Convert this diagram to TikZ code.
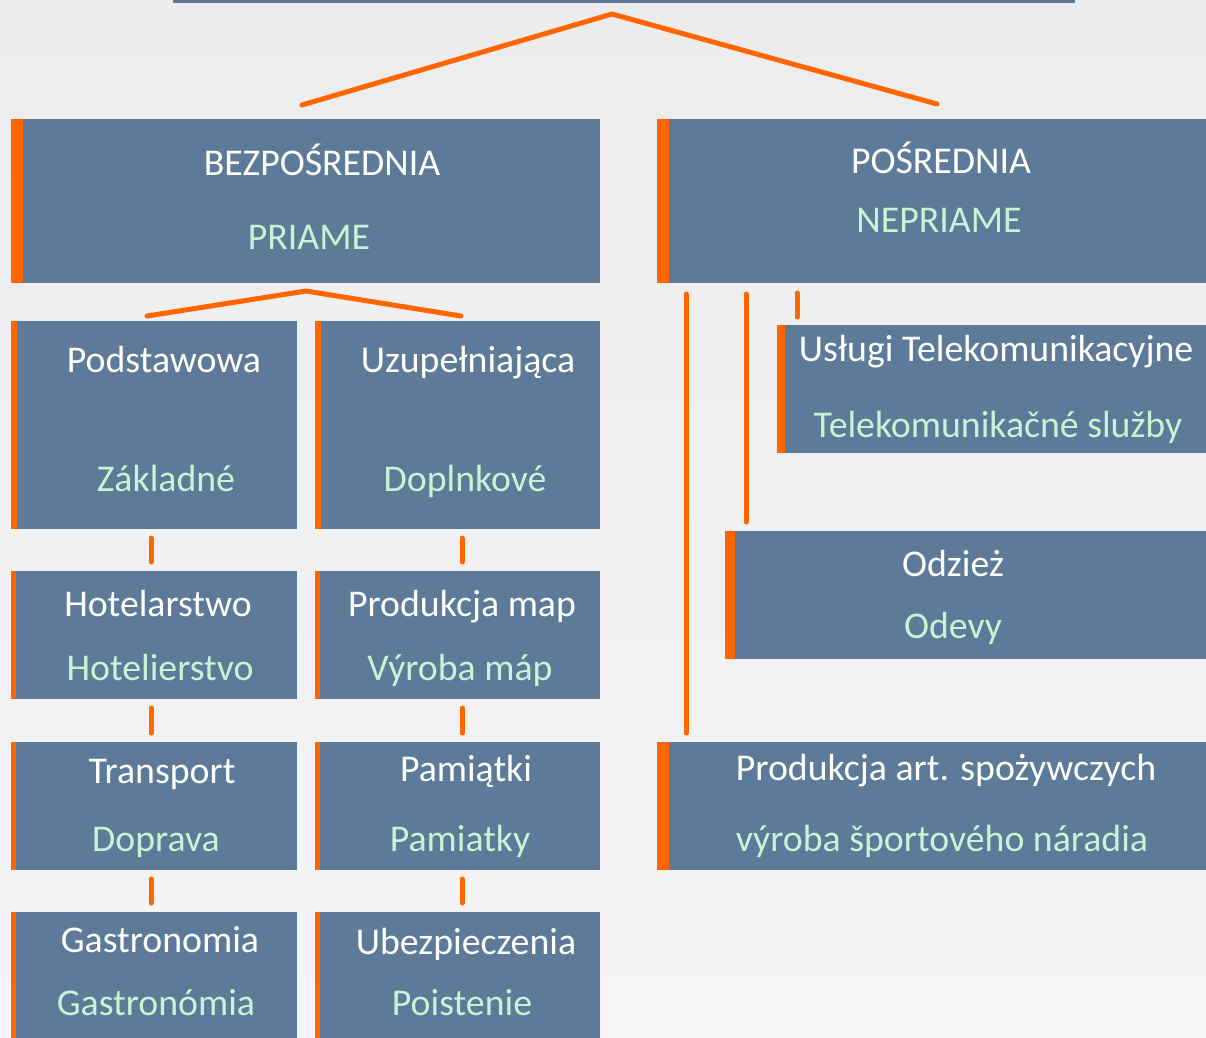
\documentclass[tikz,border=0pt]{standalone}
\usepackage{fontspec}
\setmainfont{Carlito}
\usetikzlibrary{calc}
\definecolor{boxblue}{HTML}{5D7A98}
\definecolor{accent}{HTML}{FF6600}
\definecolor{mint}{HTML}{C6F4D4}
\definecolor{bgA}{HTML}{ECECEC}
\definecolor{bgB}{HTML}{F5F5F5}
\begin{document}
\begin{tikzpicture}[x=1pt,y=-1pt,
  box/.style={fill=boxblue, draw=none, inner sep=0pt, outer sep=0pt, anchor=north west},
  pl/.style={text=white, inner sep=0pt, anchor=base, font=\fontsize{37.8}{44}\selectfont},
  sk/.style={text=mint, inner sep=0pt, anchor=base, font=\fontsize{37.8}{44}\selectfont},
  link/.style={draw=accent, line width=5pt, line cap=round, line join=round}]
% background
\shade[top color=bgA, bottom color=bgB] (0,0) rectangle (1206,1037);
\useasboundingbox (0,0) rectangle (1206,1037);

% boxes
\node[box, minimum width=902pt, minimum height=4pt] (top) at (173,-1) {};
\node[box, minimum width=589pt, minimum height=164pt] (bez) at (11,119) {};
\node[box, minimum width=549pt, minimum height=164pt] (pos) at (657,119) {};
\node[box, minimum width=286pt, minimum height=208pt] (pod) at (11,321) {};
\node[box, minimum width=285pt, minimum height=208pt] (uzu) at (315,321) {};
\node[box, minimum width=286pt, minimum height=128pt] (hot) at (11,571) {};
\node[box, minimum width=285pt, minimum height=128pt] (map) at (315,571) {};
\node[box, minimum width=286pt, minimum height=128pt] (tra) at (11,742) {};
\node[box, minimum width=285pt, minimum height=128pt] (pam) at (315,742) {};
\node[box, minimum width=286pt, minimum height=126pt] (gas) at (11,912) {};
\node[box, minimum width=285pt, minimum height=126pt] (ube) at (315,912) {};
\node[box, minimum width=429pt, minimum height=128pt] (tel) at (777,325) {};
\node[box, minimum width=481pt, minimum height=128pt] (odz) at (725,531) {};
\node[box, minimum width=549pt, minimum height=128pt] (spo) at (657,742) {};

% orange accent strips
\foreach \b/\w in {bez/12,pos/12,pod/6,uzu/6,hot/5,map/5,tra/5,pam/5,gas/5,ube/5,tel/8,odz/10,spo/12}
  \fill[accent] (\b.north west) rectangle ($(\b.south west)+(\w,0)$);

% texts
\node[pl] (t1a) at (322,175) {BEZPOŚREDNIA};
\node[sk] (t1b) at (309,249) {PRIAME};
\node[pl] (t2a) at (941,173) {POŚREDNIA};
\node[sk] (t2b) at (939,232) {NEPRIAME};
\node[pl] (t3a) at (164,372) {Podstawowa};
\node[sk] (t3b) at (166,491) {Základné};
\node[pl] (t4a) at (468,372) {Uzupełniająca};
\node[sk] (t4b) at (465,491) {Doplnkové};
\node[pl] (t5a) at (158,616) {Hotelarstwo};
\node[sk] (t5b) at (160,680) {Hotelierstvo};
\node[pl] (t6a) at (462,616) {Produkcja map};
\node[sk] (t6b) at (460,680) {Výroba máp};
\node[pl] (t7a) at (162,783) {Transport};
\node[sk] (t7b) at (156,851) {Doprava};
\node[pl] (t8a) at (466,781) {Pamiątki};
\node[sk] (t8b) at (460,851) {Pamiatky};
\node[pl] (t9a) at (160,952) {Gastronomia};
\node[sk] (t9b) at (156,1015) {Gastronómia};
\node[pl] (t10a) at (466,954) {Ubezpieczenia};
\node[sk] (t10b) at (462,1015) {Poistenie};
\node[pl] (t11a) at (996,361) {Usługi Telekomunikacyjne};
\node[sk] (t11b) at (998,437) {Telekomunikačné služby};
\node[pl] (t12a) at (953,576) {Odzież};
\node[sk] (t12b) at (953,638) {Odevy};
\node[pl] (t13a) at (946,780) {Produkcja art. spożywczych};
\node[sk] (t13b) at (942,851) {výroba športového náradia};

% connector points
\coordinate (c0) at (612,14);
\coordinate (c0l) at (302,105);
\coordinate (c0r) at (937,104);
\coordinate (c1) at (306,291);
\coordinate (c1l) at (147,316);
\coordinate (c1r) at (461,316);
\coordinate (v1a) at (686,294);
\coordinate (v1b) at (686,733);
\coordinate (v2a) at (746,294);
\coordinate (v2b) at (746,522);
\coordinate (v3a) at (797,293);
\coordinate (v3b) at (797,317);

% connectors
\draw[link] (c0l) -- (c0) -- (c0r);
\draw[link] (c1l) -- (c1) -- (c1r);
\draw[link] (v1a) -- (v1b);
\draw[link] (v2a) -- (v2b);
\draw[link] (v3a) -- (v3b);
\foreach \a/\b/\dx in {pod/hot/140, hot/tra/140, tra/gas/140, uzu/map/147, map/pam/147, pam/ube/147}
  \draw[link] ($(\a.south west)+(\dx,9)$) coordinate (\a-\b-s)
     -- ($(\b.north west)+(\dx,-9)$) coordinate (\a-\b-e);
\end{tikzpicture}
\end{document}
